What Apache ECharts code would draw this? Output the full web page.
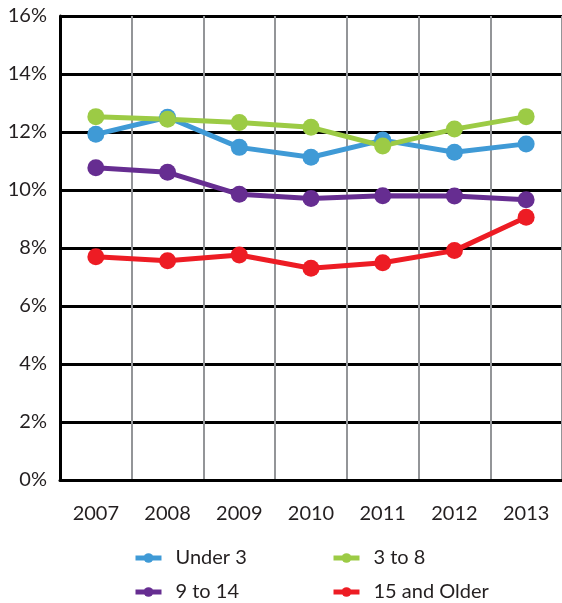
<!DOCTYPE html>
<html>
<head>
<meta charset="utf-8">
<script src="https://cdn.jsdelivr.net/npm/echarts@6/dist/echarts.min.js"></script>
<style>html,body{margin:0;padding:0;background:#fff}#c{width:562px;height:603px}</style>
</head>
<body>
<div id="c"></div>
<script>
const categories = ['2007','2008','2009','2010','2011','2012','2013'];
const under3 = [11.92, 12.51, 11.47, 11.13, 11.72, 11.30, 11.59];
const age3to8 = [12.53, 12.44, 12.33, 12.16, 11.52, 12.10, 12.53];
const age9to14 = [10.77, 10.61, 9.85, 9.71, 9.80, 9.79, 9.66];
const age15plus = [7.70, 7.56, 7.76, 7.30, 7.49, 7.91, 9.06];
const seriesNames = ['Under 3', '3 to 8', '9 to 14', '15 and Older'];
const colors = ['#3f9ad6', '#9ccb45', '#662d91', '#ed1c24'];
const yTicks = { min: 0, max: 16, interval: 2 };

const FONT = 'Lato';
const chart = echarts.init(document.getElementById('c'));
const mk = (name, data, color) => ({
  name, type: 'line', data,
  symbol: 'circle', symbolSize: 17,
  itemStyle: { color },
  lineStyle: { color, width: 5 },
  animation: false
});
const legendItem = (name, left, top) => ({
  data: [name], left, top, orient: 'horizontal', padding: 0,
  itemWidth: 26, itemHeight: 12,
  lineStyle: { width: 5 },
  textStyle: { fontFamily: FONT, fontSize: 20, lineHeight: 22, color: '#231f20', padding: [0,0,0,9] }
});
chart.setOption({
  animation: false,
  grid: { left: 60, top: 16, width: 508, height: 464, containLabel: false },
  legend: [
    legendItem(seriesNames[0], 133, 547),
    legendItem(seriesNames[1], 331, 547),
    legendItem(seriesNames[2], 133, 581),
    legendItem(seriesNames[3], 331, 581)
  ],
  xAxis: {
    type: 'category', data: categories, boundaryGap: true,
    axisLine: { show: true, lineStyle: { color: '#000', width: 3 } },
    axisTick: { show: false },
    axisLabel: { fontFamily: FONT, fontSize: 20, color: '#231f20', margin: 24 },
    splitLine: { show: true, interval: 0, lineStyle: { color: '#939598', width: 2 } }
  },
  yAxis: {
    type: 'value', min: yTicks.min, max: yTicks.max, interval: yTicks.interval,
    axisLine: { show: true, lineStyle: { color: '#000', width: 3 } },
    axisTick: { show: false },
    axisLabel: { fontFamily: FONT, fontSize: 20, color: '#231f20', margin: 13, formatter: '{value}%' },
    splitLine: { show: true, lineStyle: { color: '#000', width: 3 } }
  },
  series: [
    mk(seriesNames[0], under3, colors[0]),
    mk(seriesNames[1], age3to8, colors[1]),
    mk(seriesNames[2], age9to14, colors[2]),
    mk(seriesNames[3], age15plus, colors[3])
  ]
});
</script>
</body>
</html>
